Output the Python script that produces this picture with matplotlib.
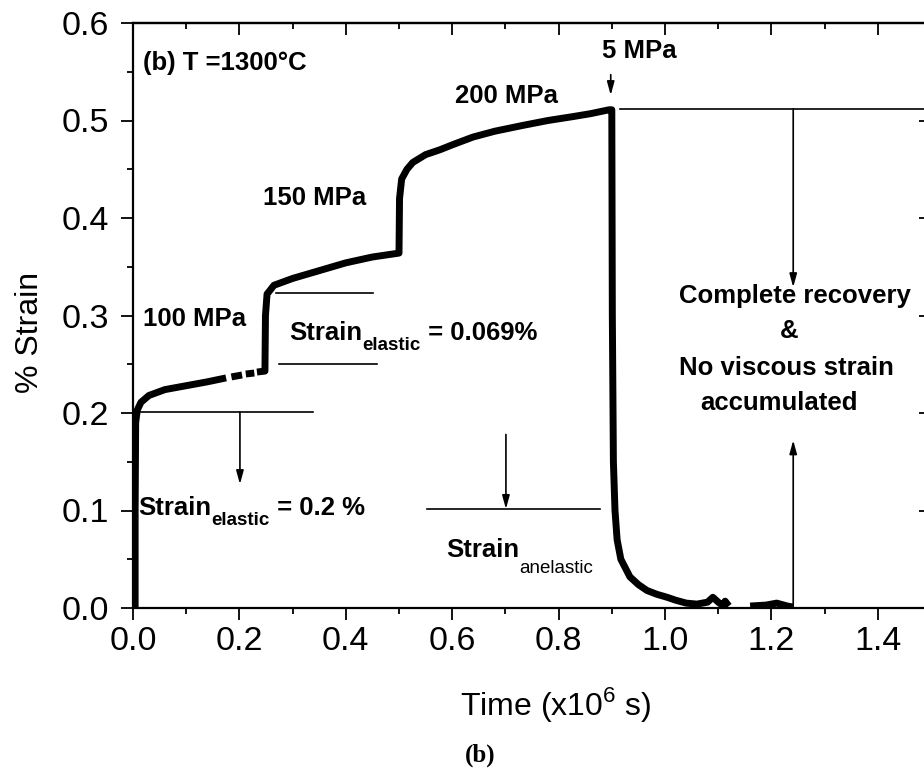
import numpy as np
import matplotlib
matplotlib.use("Agg")
import matplotlib.pyplot as plt

nan = np.nan
# creep / recovery curve (time in 1e6 s, strain in %)
time = [0.004, 0.004, 0.005, 0.008, 0.015, 0.03, 0.06, 0.10, 0.14, 0.175,
        nan, 0.185, 0.205, nan, 0.212, 0.228, nan, 0.233, 0.248,
        0.249, 0.252, 0.265, 0.30, 0.35, 0.40, 0.45, 0.50,
        0.501, 0.505, 0.515, 0.526, 0.55, 0.577, 0.60, 0.639, 0.68, 0.733, 0.78, 0.827, 0.86, 0.895, 0.90,
        0.901, 0.903, 0.906, 0.91, 0.917, 0.934, 0.95, 0.966, 0.985, 1.004, 1.02, 1.04, 1.06, 1.08, 1.09,
        1.10, 1.11, 1.113, 1.12, nan, 1.16, 1.19, 1.21, 1.23, 1.24]
strain = [0.0, 0.10, 0.19, 0.203, 0.211, 0.218, 0.224, 0.228, 0.232, 0.236,
          nan, 0.237, 0.239, nan, 0.240, 0.241, nan, 0.242, 0.243,
          0.30, 0.322, 0.331, 0.338, 0.346, 0.354, 0.360, 0.364,
          0.42, 0.44, 0.45, 0.457, 0.465, 0.470, 0.475, 0.483, 0.489, 0.495, 0.500, 0.504, 0.507, 0.511, 0.511,
          0.30, 0.15, 0.10, 0.07, 0.05, 0.032, 0.024, 0.018, 0.014, 0.011, 0.008, 0.005, 0.004, 0.006, 0.011,
          0.006, 0.002, 0.007, 0.002, nan, 0.002, 0.003, 0.005, 0.002, 0.001]

x_ticks = [0.0, 0.2, 0.4, 0.6, 0.8, 1.0, 1.2, 1.4]
y_ticks = [0.0, 0.1, 0.2, 0.3, 0.4, 0.5, 0.6]

plt.rcParams['font.family'] = ['Liberation Sans', 'DejaVu Sans']
plt.rcParams['mathtext.fontset'] = 'custom'
plt.rcParams['mathtext.rm'] = 'Liberation Sans'

W, H = 924, 770
fig = plt.figure(figsize=(W / 100, H / 100), dpi=100)
ax = fig.add_axes([133 / W, (H - 608) / H, (931 - 133) / W, (608 - 23) / H])

ax.plot(time, strain, color='black', lw=5.0, solid_joinstyle='round', solid_capstyle='butt')

ax.set_xlim(0, 1.5)
ax.set_ylim(0, 0.6)
ax.set_xticks(x_ticks)
ax.set_xticklabels([f"{v:.1f}" for v in x_ticks])
ax.set_yticks(y_ticks)
ax.set_yticklabels([f"{v:.1f}" for v in y_ticks])
ax.set_xticks(np.arange(0.1, 1.5, 0.2), minor=True)
ax.set_yticks(np.arange(0.05, 0.6, 0.1), minor=True)
for s in ax.spines.values():
    s.set_linewidth(1.6)
ax.tick_params(axis='both', which='major', direction='out', length=8.6, width=1.3, labelsize=24.5)
ax.tick_params(axis='both', which='minor', direction='out', length=4.3, width=1.3)
ax.tick_params(axis='x', pad=4.5)
ax.tick_params(axis='y', pad=8.5)

top = ax.secondary_xaxis('top')
top.set_xticks(x_ticks)
top.set_xticks(np.arange(0.1, 1.5, 0.2), minor=True)
top.tick_params(which='major', direction='in', length=8.6, width=1.3, labeltop=False)
top.tick_params(which='minor', direction='in', length=4.3, width=1.3)
top.spines['top'].set_linewidth(1.6)
right = ax.secondary_yaxis('right')
right.set_yticks(y_ticks)
right.set_yticks(np.arange(0.05, 0.6, 0.1), minor=True)
right.tick_params(which='major', direction='in', length=8.6, width=1.3, labelright=False)
right.tick_params(which='minor', direction='in', length=4.3, width=1.3)

fig.text(30 / W, 1 - 332 / H, '% Strain', rotation=90, ha='center', va='center', fontsize=23)
fig.text(556 / W, 1 - 715 / H, 'Time (x10$^{6}$ s)', ha='center', va='baseline', fontsize=23)
fig.text(480 / W, 1 - 755 / H, '(b)', ha='center', va='center', fontsize=18,
         fontweight='bold', family='Liberation Serif')

bold = dict(fontsize=18.5, fontweight='bold', va='baseline')
ax.text(0.019, 0.552, '(b) T =1300°C', **bold)
ax.text(0.019, 0.289, '100 MPa', **bold)
ax.text(0.244, 0.413, '150 MPa', **bold)
ax.text(0.605, 0.518, '200 MPa', **bold)
ax.text(0.882, 0.564, '5 MPa', **bold)

lk = dict(color='black', lw=1.2)
arr = dict(arrowstyle='-|>,head_length=0.8,head_width=0.22', color='black', lw=1.2,
           shrinkA=0, shrinkB=0, mutation_scale=10)


def arrow(x, y0, y1):
    ax.annotate('', xy=(x, y1), xytext=(x, y0), arrowprops=arr, annotation_clip=False)


# 5 MPa arrow and recovery markers
arrow(0.898, 0.547, 0.526)
ax.plot([0.915, 1.5], [0.512, 0.512], clip_on=False, **lk)
arrow(1.241, 0.512, 0.329)
arrow(1.241, 0.0, 0.172)

# elastic 0.2 %
ax.plot([0.0, 0.338], [0.201, 0.201], **lk)
arrow(0.201, 0.201, 0.127)
# elastic 0.069 %
ax.plot([0.269, 0.451], [0.323, 0.323], **lk)
ax.plot([0.274, 0.459], [0.250, 0.250], **lk)
# anelastic
ax.plot([0.553, 0.878], [0.1015, 0.1015], **lk)
arrow(0.701, 0.178, 0.1015)


def strain_label(x, y, sub, rest, sub_weight='bold', drop=-8):
    t1 = ax.text(x, y, 'Strain', **bold)
    t2 = ax.annotate(sub, xy=(1, 0), xycoords=t1, xytext=(0.5, drop), textcoords='offset points',
                     fontsize=13.5, fontweight=sub_weight, va='baseline', ha='left')
    if rest:
        ax.annotate(rest, xy=(1, y), xycoords=(t2, 'data'), xytext=(0, 0), textcoords='offset points',
                    fontsize=18.5, fontweight='bold', va='baseline', ha='left')


strain_label(0.009, 0.095, 'elastic', ' = 0.2 %', drop=-3)
strain_label(0.293, 0.275, 'elastic', ' = 0.069%', drop=-4)
strain_label(0.588, 0.052, 'anelastic', None, sub_weight='normal', drop=-8)

# recovery text
ax.text(1.244, 0.313, 'Complete recovery', ha='center', **bold)
ax.text(1.233, 0.277, '&', ha='center', **bold)
ax.text(1.229, 0.239, 'No viscous strain', ha='center', **bold)
ax.text(1.214, 0.203, 'accumulated', ha='center', **bold)

fig.savefig('out.png', dpi=100)
